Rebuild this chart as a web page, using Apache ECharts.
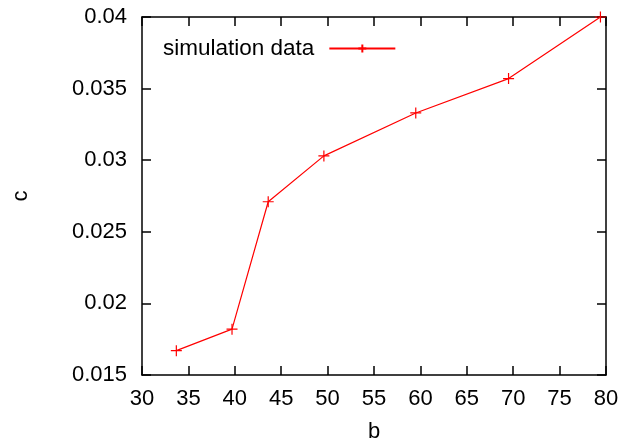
<!DOCTYPE html>
<html>
<head>
<meta charset="utf-8">
<script src="https://cdn.jsdelivr.net/npm/echarts@6/dist/echarts.min.js"></script>
<style>
  html, body { margin: 0; padding: 0; background: #fff; }
  #chart { width: 624px; height: 448px; }
</style>
</head>
<body>
<div id="chart"></div>
<script>
const bValues = [33.7, 39.7, 43.6, 49.6, 59.5, 69.5, 79.4];
const cValues = [0.0167, 0.0182, 0.0271, 0.0303, 0.0333, 0.0357, 0.0400];
const seriesName = "simulation data";

const chart = echarts.init(document.getElementById("chart"));
const font = "Liberation Sans, Arial, sans-serif";
const plus = "path://M0,5L10,5M5,0L5,10";

const boxAxis = {
  axisLine: { show: true, onZero: false, lineStyle: { color: "#000", width: 1.5 } },
  axisTick: { show: true, inside: true, length: 9, lineStyle: { color: "#000", width: 1.5 } },
  splitLine: { show: false },
};

chart.setOption({
  animation: false,
  textStyle: { fontFamily: font },
  grid: { left: 142, right: 18, top: 17, bottom: 72 },
  legend: {
    left: 158,
    top: 32,
    align: "right",
    itemWidth: 66,
    itemHeight: 10,
    textStyle: { fontSize: 22.5, color: "#000", fontFamily: font, padding: [0, 10, 0, 0] },
    data: [seriesName],
  },
  xAxis: [
    {
      ...boxAxis,
      type: "value",
      min: 30,
      max: 80,
      interval: 5,
      name: "b",
      nameLocation: "middle",
      nameGap: 46,
      nameTextStyle: { fontSize: 22, color: "#000", fontFamily: font },
      axisLabel: { fontSize: 22, color: "#000", margin: 13, fontFamily: font },
    },
    {
      ...boxAxis,
      type: "value",
      position: "top",
      min: 30,
      max: 80,
      interval: 5,
      axisLabel: { show: false },
    },
  ],
  yAxis: [
    {
      ...boxAxis,
      type: "value",
      min: 0.015,
      max: 0.04,
      interval: 0.005,
      name: "c",
      nameLocation: "middle",
      nameGap: 110,
      nameTextStyle: { fontSize: 22, color: "#000", fontFamily: font },
      axisLabel: { fontSize: 22, color: "#000", margin: 15, fontFamily: font },
    },
    {
      ...boxAxis,
      type: "value",
      position: "right",
      min: 0.015,
      max: 0.04,
      interval: 0.005,
      axisLabel: { show: false },
    },
  ],
  series: [
    {
      name: seriesName,
      type: "line",
      data: bValues.map((b, i) => [b, cValues[i]]),
      symbol: plus,
      symbolSize: 11,
      showAllSymbol: true,
      lineStyle: { color: "#ff0000", width: 1.2 },
      itemStyle: { color: "#ff0000", borderColor: "#ff0000", borderWidth: 1.2 },
    },
  ],
});
</script>
</body>
</html>
